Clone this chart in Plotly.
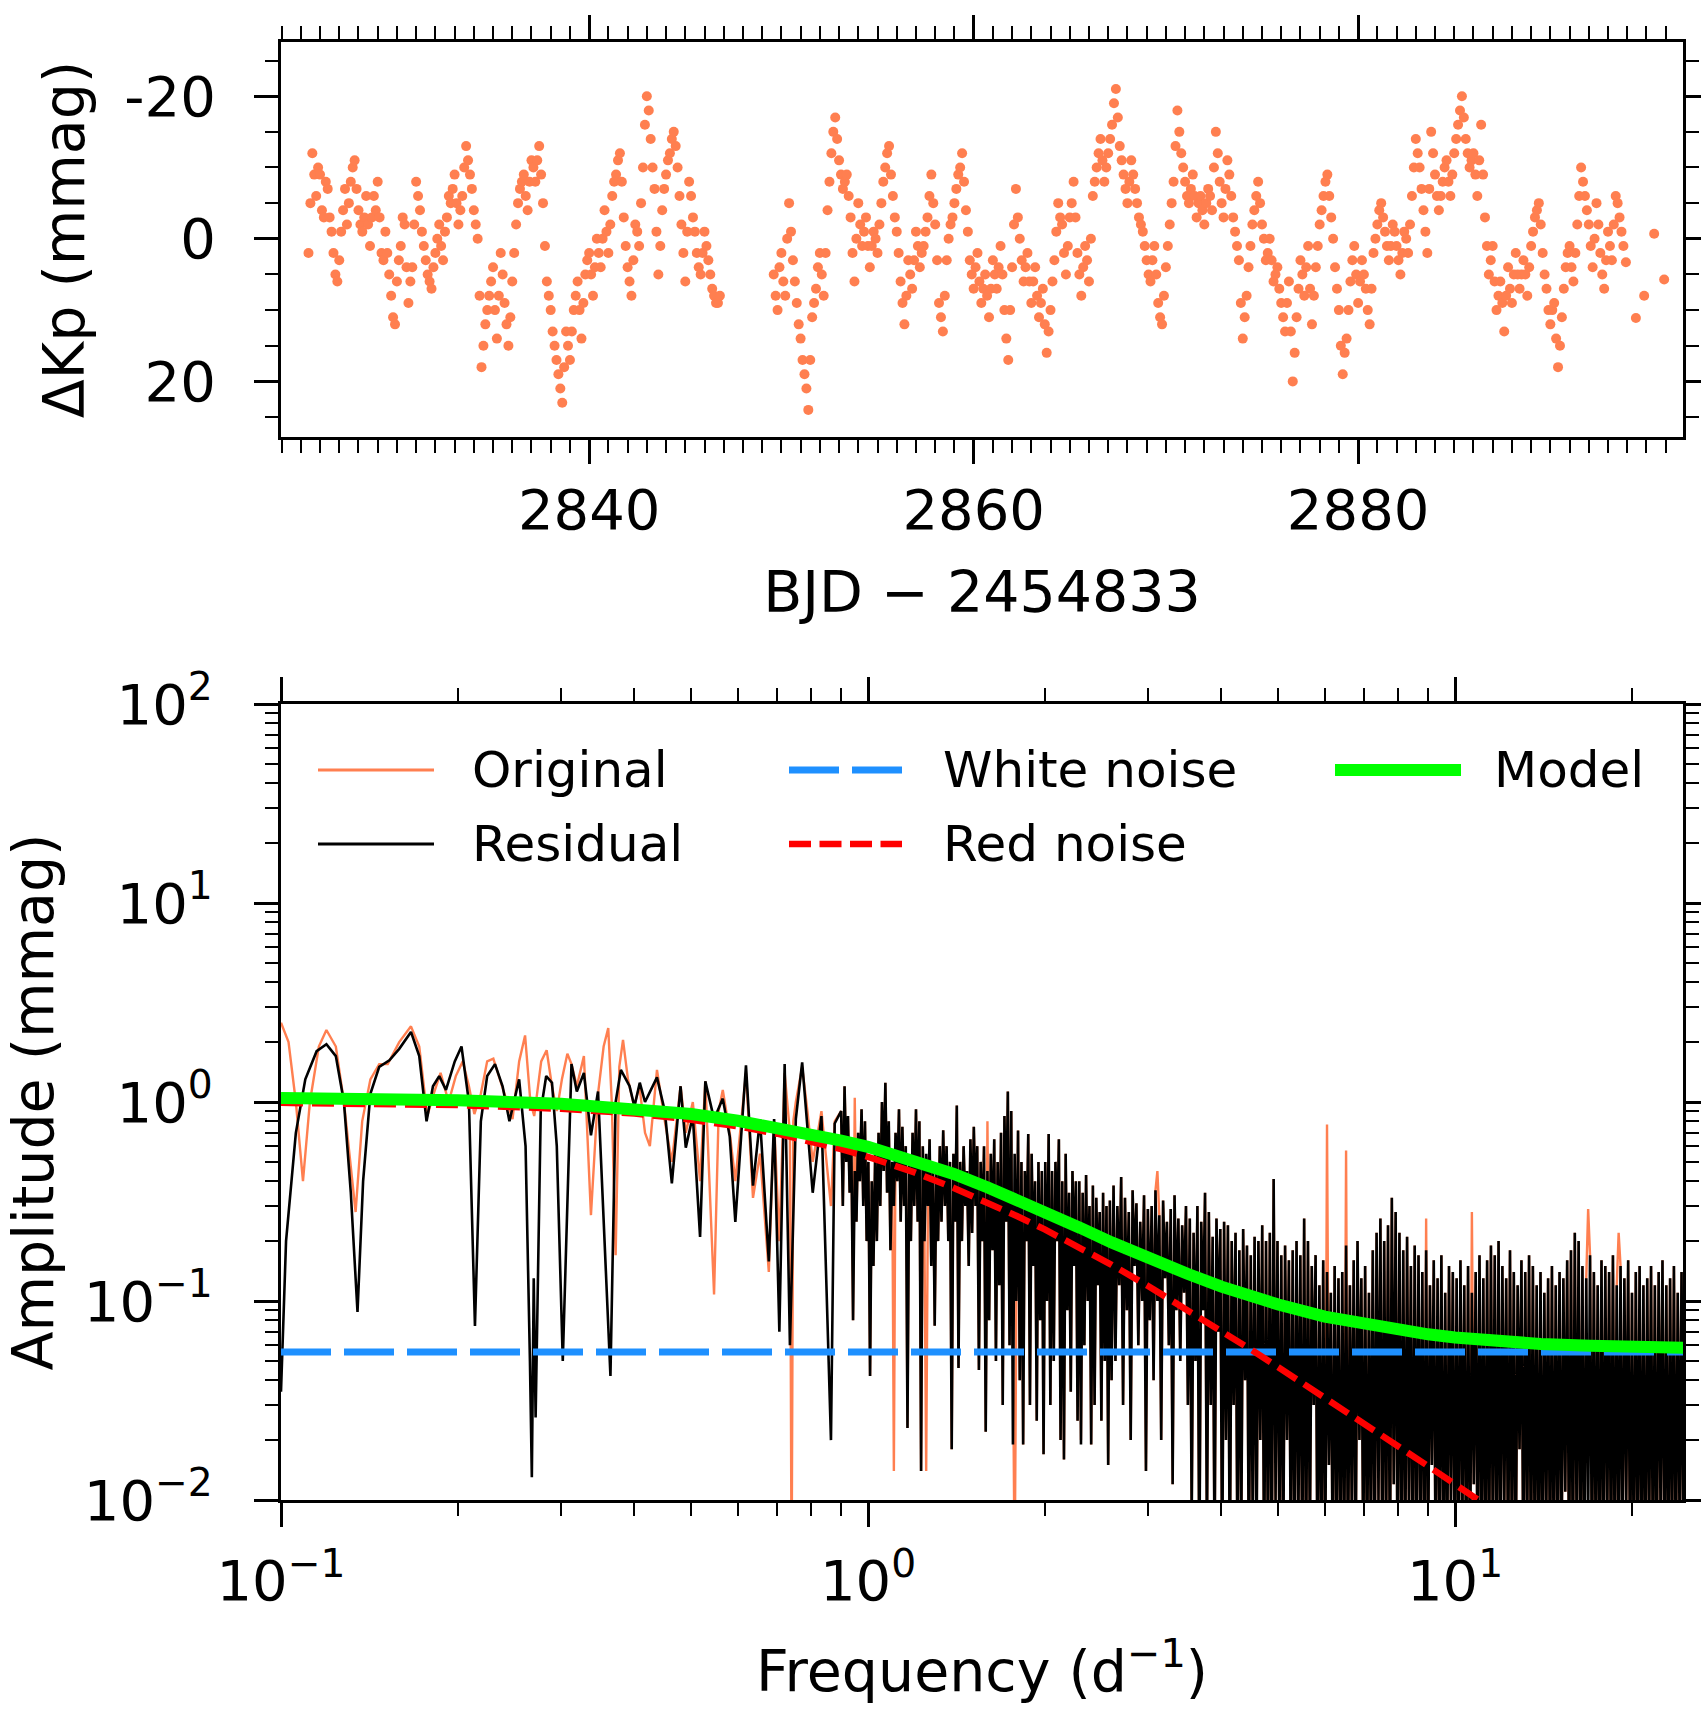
import numpy as np
import plotly.graph_objects as go

FONT = "DejaVu Sans"
CORAL = "#FF7F50"

# ------------------------------------------------------------------
# Top panel: light curve (Delta Kp in mmag)
# two readings per 0.2 d slot: one at the slot start, one half-way
# ------------------------------------------------------------------
lc_step = 0.2
lc1_start = 2825.4
lc1_mmag = [
    2, -12, -6, -9, -3,
    -7, -1, 5, 3, -4,
    -2, -8, -11, -4, -1,
    -6, 1, -6, -8, 2,
    -1, 5, 11, 6, 1,
    -2, 9, 4, -8, -4,
    1, 5, 7, 2, -2,
    3, -3, -5, -9, -2,
    -6, -13, -9, -4, 0,
    18, 12, 8, 4, 14,
    2, 9, 15, 6, -2,
    -7, -9, -4, -11, -8,
    -13, -5, 6, 10, 15,
    19, 23, 13, 17, 10,
    6, 14, 5, 2, 8,
    0, 4, -4, 2, -6,
    -9, -12, -3, 4, 8,
    -2, 1, -10, -20, -14,
    -7, 5, -4, -9, -12,
    -15, -10, -2, 6, -8,
    -3, 2, 5, -1, 3,
    7, 9, 8,
]
lc1_half_mmag = [
    -5, -9, -10, -4, -8,
    -3, 2, 6, -1, -7,
    -5, -10, -7, -2, -3,
    -2, -3, -4, -3, 3,
    2, 8, 12, 3, -3,
    4, 6, -2, -6, -1,
    3, 6, 4, 0, 1,
    -1, -6, -7, -5, -4,
    -10, -11, -7, -2, 8,
    15, 10, 6, 10, 8,
    5, 12, 11, 2, -5,
    -8, -6, -8, -10, -11,
    -9, 1, 8, 13, 17,
    21, 18, 15, 13, 8,
    10, 9, 3, 5, 4,
    2, 0, -1, -2, -8,
    -11, -8, 1, 6, 3,
    -1, -5, -16, -18, -10,
    -1, 1, -7, -11, -14,
    -13, -6, 2, -1, -6,
    -1, 4, 2, 1, 5,
    8, 9,
]
lc2_start = 2849.6
lc2_mmag = [
    5, 10, 2, 8, -5,
    3, 9, 14, 19, 24,
    11, 7, 2, 8, -4,
    -12, -17, -11, -7, -9,
    -3, 6, -5, 1, -3,
    4, -1, 2, -5, -10,
    -13, -6, -1, 6, 12,
    3, 7, -1, 4, 1,
    -3, -9, -2, 9, 13,
    3, -2, -5, -9, -12,
    -4, 3, 7, 2, 9,
    5, 11, 3, 7, 1,
    10, 17, 4, -7, 0,
    6, 2, 9, 4, 11,
    7, 16, 10, 3, -5,
    -2, 5, -3, -8, 2,
    8, 1, 6, -6, -10,
    -14, -8, -12, -16, -21,
    -13, -9, -5, -11, -7,
    -3, -1, 3, 6, 1,
    9, 12, 4, -2, -8,
    -18, -12, -8, -5, -9,
    -3, -6, -2, -7, -4,
    -15, -8, -3, -11, -6,
    -1, 3, 14, 8, 1,
    -4, -8, -2, 3, 0,
    6, 4, 9, 13, 6,
    20, 11, 3, 8, 1,
    12, 4, -2, -6, -9,
    -3, 4, 10, 19, 14,
    6, 1, 9, 3, 7,
    12, 2, -2, -5, -1,
    3, -2, 1, 5, -1,
    2, -6, -14, -10, -4,
    2, -15, -9, -4, -8,
    -11, -6, -12, -16, -20,
    -14, -10, -12, -6, -16,
    -3, 5, 1, 10, 6,
    13, 4, 9, 2, 7,
    3, 8, 1, -3, -5,
    2, 7, 12, 9, 18,
    11, 4, 1, 6, -2,
    -10, -6, -2, 4, -5,
    2, 7, -1, 3, -6,
    -3, 1,
]
lc2_half_mmag = [
    8, 4, 6, 0, -1,
    6, 12, 17, 21, 17,
    9, 4, 5, 2, -8,
    -15, -14, -9, -8, -6,
    2, 0, -2, -1, 1,
    1, 0, -2, -8, -12,
    -9, -3, 2, 9, 8,
    5, 3, 1, 2, -1,
    -6, -5, 3, 11, 8,
    0, -3, -7, -10, -8,
    -1, 5, 4, 6, 7,
    8, 7, 5, 4, 5,
    14, 10, -2, -3, 3,
    4, 6, 6, 8, 9,
    12, 13, 6, -1, -3,
    2, 1, -5, -3, 5,
    4, 3, 0, -8, -12,
    -11, -10, -14, -19, -17,
    -11, -7, -8, -9, -5,
    -2, 1, 5, 3, 5,
    11, 8, 1, -5, -13,
    -15, -10, -6, -7, -6,
    -5, -4, -5, -6, -10,
    -12, -5, -7, -9, -3,
    1, 9, 11, 4, -2,
    -6, -5, 0, 2, 3,
    5, 7, 11, 9, 13,
    16, 7, 5, 4, 7,
    8, 1, -4, -8, -6,
    0, 7, 15, 16, 10,
    3, 5, 6, 5, 10,
    7, 0, -4, -3, 1,
    1, -1, 3, 2, 0,
    -2, -10, -12, -7, -1,
    -7, -12, -6, -6, -10,
    -8, -9, -14, -18, -17,
    -12, -11, -9, -11, -9,
    1, 3, 6, 8, 9,
    8, 7, 5, 5, 5,
    5, 4, -1, -4, -2,
    5, 10, 10, 14, 15,
    7, 2, 4, 2, -6,
    -8, -4, 1, 0, -2,
    5, 3, 1, -2, -5,
    -1,
]
lc_tail_bjd = [2893.93, 2894.45, 2894.88, 2895.40, 2895.92]
lc_tail_mmag = [3.3, 11.1, 8.0, -0.7, 5.7]

bjd_major = [2840, 2860, 2880]
bjd_minor = [d for d in range(2824, 2897) if d not in bjd_major]
dkp_major = [-20, 0, 20]
dkp_major_text = ["-20", "0", "20"]
dkp_minor = [-25, -15, -10, -5, 5, 10, 15, 25]

# ------------------------------------------------------------------
# Bottom panel: amplitude spectra (mmag) vs frequency (1/d)
# ------------------------------------------------------------------
residual_low = [
    (0.100, 0.035), (0.102, 0.2), (0.106, 0.7), (0.110, 1.3), (0.115, 1.8),
    (0.1195, 1.95), (0.124, 1.7), (0.128, 1.0), (0.1315, 0.35), (0.135, 0.088),
    (0.138, 0.4), (0.142, 1.1), (0.147, 1.5), (0.153, 1.62), (0.159, 1.85),
    (0.1665, 2.25), (0.172, 1.7), (0.177, 0.8), (0.1815, 1.2), (0.186, 1.35),
    (0.191, 1.15), (0.1977, 1.6), (0.203, 1.9), (0.209, 1.0), (0.214, 0.075),
    (0.219, 0.8), (0.2245, 1.35), (0.2315, 1.55), (0.2385, 1.2), (0.245, 0.8),
    (0.2545, 1.3), (0.261, 0.6), (0.2655, 0.05), (0.2675, 0.013), (0.2695, 0.13),
    (0.2715, 0.026), (0.277, 0.9), (0.283, 1.35), (0.2895, 1.25), (0.295, 0.6),
    (0.302, 0.05), (0.3125, 1.55), (0.3191, 1.13), (0.3281, 1.4), (0.3373, 0.68),
    (0.3468, 1.13), (0.3641, 0.042), (0.3716, 1.0), (0.3793, 1.45), (0.3925, 1.2),
    (0.400, 0.95), (0.4085, 1.25), (0.417, 1.0), (0.425, 1.13), (0.437, 1.33),
    (0.4507, 0.9), (0.4633, 0.39), (0.4794, 1.2), (0.4893, 0.59), (0.503, 0.85),
    (0.5175, 0.21), (0.5283, 1.27), (0.5467, 0.82), (0.5657, 1.04), (0.5814, 0.67),
    (0.5943, 0.25), (0.6196, 1.53), (0.6369, 0.38), (0.6547, 0.82), (0.6777, 0.158),
    (0.6919, 0.82), (0.7063, 0.07), (0.7211, 1.55), (0.7362, 0.06), (0.7534, 0.82),
    (0.7724, 1.58), (0.7885, 0.72), (0.805, 0.35), (0.8331, 0.85), (0.8648, 0.02),
    (0.8775, 0.78),
]
original_low = [
    (0.100, 2.5), (0.103, 2.0), (0.106, 1.0), (0.109, 0.40), (0.112, 1.0),
    (0.116, 1.9), (0.1195, 2.3), (0.124, 1.9), (0.128, 1.0), (0.134, 0.28),
    (0.1375, 0.8), (0.142, 1.3), (0.147, 1.55), (0.152, 1.55), (0.159, 2.0),
    (0.1665, 2.4), (0.172, 1.9), (0.1775, 0.85), (0.182, 1.1), (0.187, 1.4),
    (0.193, 1.0), (0.1985, 1.35), (0.204, 1.6), (0.209, 1.2), (0.2135, 0.87),
    (0.219, 1.1), (0.2245, 1.6), (0.230, 1.65), (0.236, 1.3), (0.2425, 1.0),
    (0.248, 0.82), (0.2545, 1.6), (0.2605, 2.16), (0.266, 1.0), (0.270, 0.85),
    (0.2775, 1.6), (0.2835, 1.82), (0.2895, 1.2), (0.295, 0.9), (0.301, 1.3),
    (0.3075, 1.75), (0.3125, 1.55), (0.3191, 1.2), (0.3281, 1.7), (0.3373, 0.27),
    (0.3468, 1.1), (0.3545, 1.9), (0.361, 2.35), (0.366, 1.0), (0.3716, 0.17),
    (0.377, 1.5), (0.3825, 2.05), (0.390, 1.3), (0.3995, 0.95), (0.408, 1.2),
    (0.417, 0.7), (0.425, 0.6), (0.437, 1.45), (0.4507, 0.8), (0.4633, 0.5),
    (0.4794, 1.2), (0.4893, 0.7), (0.503, 1.0), (0.5175, 0.4), (0.5283, 1.27),
    (0.5467, 0.108), (0.5567, 0.9), (0.5657, 1.15), (0.5814, 0.7), (0.5943, 0.4),
    (0.6196, 1.4), (0.6369, 0.33), (0.6547, 0.55), (0.6777, 0.14), (0.6919, 0.8),
    (0.7063, 0.2), (0.7211, 1.4), (0.7362, 0.7), (0.741, 0.004), (0.746, 0.8),
    (0.7534, 1.0), (0.7724, 1.5), (0.7885, 0.9), (0.805, 0.5), (0.8331, 0.9),
    (0.8648, 0.3), (0.8775, 0.8),
]

# dense parts: successive local maxima / minima
mid_band = (0.9, 2.6)
residual_mid_peaks = [
    0.9, 1.2, 0.85, 0.6, 0.45, 0.7, 0.92, 0.8, 0.5, 0.4,
    0.55, 0.7, 1.0, 1.25, 0.8, 0.5, 0.7, 0.92, 0.75, 0.6,
    0.5, 0.7, 0.92, 0.8, 0.6, 0.55, 0.65, 0.5, 0.45, 0.6,
    0.72, 0.6, 0.5, 0.55, 0.96, 0.5, 0.6, 0.45, 0.65, 0.75,
    0.6, 0.5, 0.6, 0.45, 0.55, 0.65, 0.5, 0.7, 0.85, 1.13,
    0.9, 0.55, 0.72, 0.5, 0.45, 0.69, 0.55, 0.4, 0.5, 0.45,
    0.5, 0.69, 0.45, 0.5, 0.65, 0.4, 0.55, 0.35, 0.45, 0.4,
    0.4, 0.35, 0.43, 0.3, 0.38, 0.33, 0.28, 0.35, 0.3, 0.32,
]
residual_mid_dips = [
    0.3, 0.5, 0.35, 0.08, 0.25, 0.4, 0.3, 0.2, 0.042, 0.15,
    0.2, 0.3, 0.45, 0.35, 0.18, 0.3, 0.4, 0.25, 0.3, 0.023,
    0.2, 0.3, 0.25, 0.014, 0.2, 0.3, 0.15, 0.075, 0.2, 0.25,
    0.3, 0.2, 0.018, 0.25, 0.046, 0.2, 0.3, 0.15, 0.22, 0.3,
    0.045, 0.2, 0.022, 0.08, 0.18, 0.05, 0.12, 0.03, 0.25, 0.06,
    0.019, 0.1, 0.04, 0.019, 0.2, 0.03, 0.15, 0.025, 0.08, 0.017,
    0.1, 0.03, 0.05, 0.2, 0.02, 0.016, 0.09, 0.035, 0.15, 0.025,
    0.019, 0.06, 0.1, 0.019, 0.03, 0.12, 0.025, 0.05, 0.015, 0.04,
]
high_band = (2.62, 24.5)
residual_high_peaks = [
    0.38, 0.3, 0.42, 0.33, 0.28, 0.36, 0.31, 0.25, 0.34, 0.29,
    0.3, 0.36, 0.27, 0.32, 0.25, 0.29, 0.34, 0.26, 0.24, 0.3,
    0.26, 0.22, 0.3, 0.25, 0.35, 0.28, 0.21, 0.26, 0.23, 0.25,
    0.24, 0.2, 0.22, 0.18, 0.23, 0.19, 0.17, 0.21, 0.2, 0.24,
    0.2, 0.22, 0.41, 0.2, 0.17, 0.19, 0.16, 0.18, 0.2, 0.17,
    0.26, 0.2, 0.15, 0.17, 0.12, 0.16, 0.14, 0.11, 0.15, 0.13,
    0.14, 0.19, 0.12, 0.16, 0.2, 0.13, 0.15, 0.11, 0.18, 0.22,
    0.26, 0.2, 0.24, 0.33, 0.28, 0.22, 0.18, 0.21, 0.15, 0.19,
    0.17, 0.14, 0.18, 0.12, 0.16, 0.13, 0.17, 0.11, 0.15, 0.14,
    0.13, 0.16, 0.12, 0.15, 0.11, 0.14, 0.17, 0.13, 0.16, 0.19,
    0.17, 0.2, 0.15, 0.13, 0.18, 0.14, 0.12, 0.16, 0.14, 0.17,
    0.15, 0.12, 0.14, 0.11, 0.13, 0.15, 0.12, 0.14, 0.13, 0.16,
    0.18, 0.22, 0.2, 0.15, 0.13, 0.17, 0.14, 0.12, 0.16, 0.15,
    0.14, 0.17, 0.12, 0.15, 0.13, 0.16, 0.11, 0.14, 0.15, 0.12,
    0.13, 0.15, 0.12, 0.14, 0.16, 0.12, 0.13, 0.15, 0.11, 0.14,
]
residual_high_dips = [
    0.05, 0.12, 0.03, 0.09, 0.02, 0.15, 0.06, 0.1, 0.014, 0.08,
    0.04, 0.1, 0.02, 0.13, 0.06, 0.012, 0.09, 0.05, 0.11, 0.03,
    0.008, 0.05, 0.004, 0.09, 0.006, 0.03, 0.005, 0.07, 0.004, 0.02,
    0.004, 0.03, 0.005, 0.006, 0.04, 0.004, 0.008, 0.005, 0.02, 0.004,
    0.005, 0.004, 0.01, 0.006, 0.004, 0.02, 0.005, 0.004, 0.008, 0.004,
    0.004, 0.006, 0.03, 0.004, 0.005, 0.004, 0.015, 0.004, 0.006, 0.004,
    0.005, 0.004, 0.008, 0.004, 0.02, 0.005, 0.004, 0.006, 0.004, 0.01,
    0.004, 0.006, 0.004, 0.012, 0.004, 0.005, 0.004, 0.008, 0.004, 0.005,
    0.006, 0.004, 0.004, 0.015, 0.004, 0.006, 0.004, 0.004, 0.009, 0.004,
    0.004, 0.007, 0.004, 0.004, 0.012, 0.004, 0.005, 0.004, 0.004, 0.006,
    0.004, 0.004, 0.009, 0.004, 0.005, 0.004, 0.018, 0.004, 0.006, 0.004,
    0.005, 0.004, 0.004, 0.007, 0.004, 0.004, 0.006, 0.004, 0.011, 0.004,
    0.004, 0.006, 0.004, 0.004, 0.008, 0.004, 0.005, 0.004, 0.004, 0.007,
    0.004, 0.004, 0.006, 0.004, 0.01, 0.004, 0.004, 0.005, 0.004, 0.004,
    0.006, 0.004, 0.004, 0.008, 0.004, 0.004, 0.005, 0.004, 0.007, 0.004,
]
# above 0.9 /d the Original trace lies under the Residual one, except here:
original_mid_departures = [(1.11, 0.014), (1.26, 0.014), (1.78, 0.004),
                           (2.30, 0.02), (0.95, 1.05), (1.60, 0.8)]
original_high_departures = [(3.10, 0.45), (6.07, 0.77), (6.50, 0.57),
                            (8.90, 0.26), (10.7, 0.28), (16.9, 0.29),
                            (19.0, 0.22)]

# fitted noise components
model_freq = [0.1, 0.15, 0.2, 0.3, 0.4, 0.5, 0.6, 0.7, 0.8, 0.9, 1.0, 1.2,
              1.4, 1.6, 1.8, 2.0, 2.3, 2.6, 3.0, 3.5, 4.0, 4.5, 5.0, 6.0,
              7.0, 8.0, 9.0, 10.0, 11.0, 12.0, 14.0, 17.0, 20.0, 24.5]
red_noise = [0.99, 0.98, 0.965, 0.925, 0.875, 0.815, 0.755, 0.693, 0.635, 0.58,
             0.53, 0.443, 0.37, 0.312, 0.266, 0.229, 0.185, 0.152, 0.119, 0.0905,
             0.071, 0.0568, 0.0465, 0.0328, 0.0243, 0.0187, 0.0148, 0.012, 0.0099,
             0.0083, 0.0061, 0.0042, 0.003, 0.002]
model_total = [1.046, 1.035, 1.02, 0.98, 0.928, 0.87, 0.805, 0.745, 0.69, 0.64,
               0.595, 0.51, 0.435, 0.372, 0.322, 0.281, 0.233, 0.197, 0.164, 0.137,
               0.118, 0.105, 0.096, 0.0835, 0.0765, 0.0715, 0.068, 0.0655, 0.0638,
               0.0625, 0.0608, 0.0595, 0.0588, 0.0582]
white_freq = [0.1, 24.5]
white_noise = [0.0555, 0.0555]

freq_major = [0.1, 1, 10]
freq_major_text = ["10<sup>\u22121</sup>", "10<sup>0</sup>", "10<sup>1</sup>"]
freq_minor = [0.2, 0.3, 0.4, 0.5, 0.6, 0.7, 0.8, 0.9,
              2, 3, 4, 5, 6, 7, 8, 9, 20]
amp_major = [0.01, 0.1, 1, 10, 100]
amp_major_text = ["10<sup>\u22122</sup>", "10<sup>\u22121</sup>", "10<sup>0</sup>",
                  "10<sup>1</sup>", "10<sup>2</sup>"]
amp_minor = [m * d for d in (0.01, 0.1, 1, 10) for m in range(2, 10)]


# ------------------------------------------------------------------
def alternate(peaks, dips):
    out = []
    for p, d in zip(peaks, dips):
        out += [p, d]
    return out


def band_freqs(band, n):
    return np.geomspace(band[0], band[1], n)


def with_departures(freqs, values, departures):
    out = list(values)
    lf = np.log10(freqs)
    for f, a in departures:
        out[int(np.argmin(np.abs(lf - np.log10(f))))] = a
    return out


lc_t = np.concatenate([lc1_start + lc_step * np.arange(len(lc1_mmag)),
                       lc1_start + lc_step / 2 + lc_step * np.arange(len(lc1_half_mmag)),
                       lc2_start + lc_step * np.arange(len(lc2_mmag)),
                       lc2_start + lc_step / 2 + lc_step * np.arange(len(lc2_half_mmag)),
                       lc_tail_bjd])
lc_m = np.concatenate([lc1_mmag, lc1_half_mmag, lc2_mmag, lc2_half_mmag, lc_tail_mmag])
order = np.argsort(lc_t)
lc_t, lc_m = lc_t[order], lc_m[order]

res_mid = alternate(residual_mid_peaks, residual_mid_dips)
res_high = alternate(residual_high_peaks, residual_high_dips)
f_mid = band_freqs(mid_band, len(res_mid))
f_high = band_freqs(high_band, len(res_high))

res_f = [f for f, a in residual_low] + list(f_mid) + list(f_high)
res_a = [a for f, a in residual_low] + res_mid + res_high

org_f = [f for f, a in original_low] + list(f_mid) + list(f_high)
org_a = ([a for f, a in original_low]
         + with_departures(f_mid, res_mid, original_mid_departures)
         + with_departures(f_high, res_high, original_high_departures))

fig = go.Figure()
fig.add_trace(go.Scatter(x=lc_t, y=lc_m, mode="markers", name="Light curve",
                         marker=dict(color=CORAL, size=10, line=dict(width=0)),
                         xaxis="x", yaxis="y"))
fig.add_trace(go.Scatter(x=org_f, y=org_a, mode="lines", name="Original",
                         line=dict(color=CORAL, width=2.4), xaxis="x2", yaxis="y2"))
fig.add_trace(go.Scatter(x=res_f, y=res_a, mode="lines", name="Residual",
                         line=dict(color="black", width=2.6), xaxis="x2", yaxis="y2"))
fig.add_trace(go.Scatter(x=white_freq, y=white_noise, mode="lines", name="White noise",
                         line=dict(color="#1E90FF", width=7, dash="50px,13px"),
                         xaxis="x2", yaxis="y2"))
fig.add_trace(go.Scatter(x=model_freq, y=red_noise, mode="lines", name="Red noise",
                         line=dict(color="#FF0000", width=6.5, dash="22px,9px"),
                         xaxis="x2", yaxis="y2"))
fig.add_trace(go.Scatter(x=model_freq, y=model_total, mode="lines", name="Model",
                         line=dict(color="#00FF00", width=12), xaxis="x2", yaxis="y2"))

W, H = 1701, 1710
ML, MR, MT, MB = 281, 18, 42, 210
PW, PH = W - ML - MR, H - MT - MB


def ydom(top_px, bot_px):
    return [(H - MB - bot_px) / PH, (H - MB - top_px) / PH]


tickfont = dict(family=FONT, size=56, color="black")
titlefont = dict(family=FONT, size=57, color="black")
common = dict(showline=True, linewidth=3, linecolor="black", mirror="allticks",
              ticks="outside", tickwidth=2.5, tickcolor="black", ticklen=24,
              showgrid=False, zeroline=False, tickfont=tickfont, tickmode="array",
              automargin=False)


def minor(vals):
    return dict(tickmode="array", tickvals=vals, ticks="outside", ticklen=13,
                tickwidth=2, tickcolor="black", showgrid=False)


fig.update_layout(
    width=W, height=H, autosize=False,
    margin=dict(l=ML, r=MR, t=MT, b=MB, pad=0, autoexpand=False),
    paper_bgcolor="white", plot_bgcolor="white",
    showlegend=False,
    font=dict(family=FONT, size=56, color="black"),
    xaxis=dict(domain=[0, 1], anchor="y", range=[2823.97, 2896.9],
               tickvals=bjd_major, ticktext=[str(v) for v in bjd_major],
               minor=minor(bjd_minor), ticklabelstandoff=-2,
               title=dict(text="BJD \u2212 2454833", font=titlefont, standoff=31),
               **common),
    yaxis=dict(domain=ydom(42, 437), anchor="x", range=[27.8, -27.6],
               tickvals=dkp_major, ticktext=dkp_major_text,
               minor=minor(dkp_minor), ticklabelstandoff=27,
               title=dict(text="\u0394Kp (mmag)", font=titlefont, standoff=22),
               **common),
    xaxis2=dict(domain=[0, 1], anchor="y2", type="log", range=[-1, 1.3884],
                tickvals=freq_major, ticktext=freq_major_text,
                minor=minor(freq_minor), ticklabelstandoff=6,
                title=dict(text="Frequency (d<sup>\u22121</sup>)", font=titlefont, standoff=39),
                **common),
    yaxis2=dict(domain=ydom(704, 1500), anchor="x2", type="log", range=[-2, 2],
                tickvals=amp_major, ticktext=amp_major_text,
                minor=minor(amp_minor), ticklabelstandoff=30,
                title=dict(text="Amplitude (mmag)", font=titlefont, standoff=25),
                **common),
)

# legend drawn as line samples + text (3 columns x 2 rows)
legend_items = [
    ("Original", CORAL, 3, "solid", 318, 434, 470, 770),
    ("Residual", "black", 3, "solid", 318, 434, 470, 844),
    ("White noise", "#1E90FF", 7, "50px,13px", 789, 902, 941, 770),
    ("Red noise", "#FF0000", 6.5, "22px,8.5px", 789, 902, 941, 844),
    ("Model", "#00FF00", 12, "solid", 1335, 1461, 1492, 770),
]
for label, col, lw, dash, x0, x1, xt, yc in legend_items:
    fig.add_shape(type="line", xref="paper", yref="paper",
                  x0=(x0 - ML) / PW, x1=(x1 - ML) / PW,
                  y0=(H - MB - yc) / PH, y1=(H - MB - yc) / PH,
                  line=dict(color=col, width=lw, dash=dash))
    fig.add_annotation(xref="paper", yref="paper",
                       x=(xt - ML) / PW, y=(H - MB - yc) / PH,
                       xanchor="left", yanchor="middle", showarrow=False,
                       text=label, font=dict(family=FONT, size=50, color="black"))

fig.write_html("out.html", post_script="document.body.style.margin='0px';")
